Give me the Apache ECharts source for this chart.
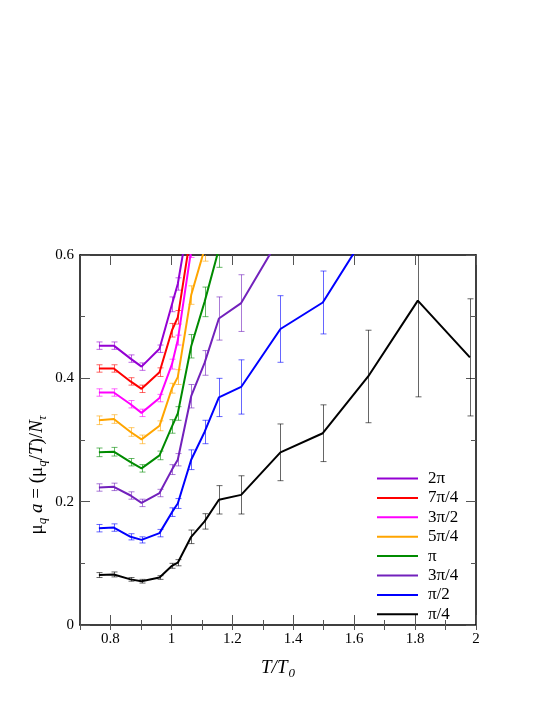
<!DOCTYPE html>
<html>
<head>
<meta charset="utf-8">
<script src="https://cdn.jsdelivr.net/npm/echarts@6/dist/echarts.min.js"></script>
<style>
  html, body { margin: 0; padding: 0; background: #fff; }
  #chart { width: 545px; height: 705px; }
</style>
</head>
<body>
<div id="chart"></div>
<script>
// T/T0 of the lattice points
const tRatio = [0.762, 0.811, 0.866, 0.902, 0.961, 1.002, 1.021, 1.065, 1.109, 1.156, 1.229, 1.358, 1.497, 1.646, 1.809, 1.980];

// mu_q a for each imaginary chemical potential, with errors
const mu2pi = [0.453, 0.453, 0.432, 0.419, 0.448, 0.520, 0.553, 0.680];
const err2pi = [0.006, 0.006, 0.006, 0.006, 0.006, 0.012, 0.010, 0.015];
const mu7pi4 = [0.416, 0.416, 0.395, 0.383, 0.410, 0.478, 0.499, 0.638];
const err7pi4 = [0.006, 0.006, 0.006, 0.006, 0.007, 0.011, 0.011, 0.015];
const mu3pi2 = [0.377, 0.377, 0.358, 0.344, 0.368, 0.423, 0.462, 0.608, 0.750];
const err3pi2 = [0.006, 0.006, 0.006, 0.006, 0.006, 0.008, 0.008, 0.012, 0.015];
const mu5pi4 = [0.332, 0.334, 0.313, 0.301, 0.323, 0.384, 0.402, 0.535, 0.610, 0.750];
const err5pi4 = [0.007, 0.007, 0.007, 0.007, 0.008, 0.008, 0.012, 0.015, 0.020, 0.025];
const muPi = [0.280, 0.281, 0.264, 0.254, 0.275, 0.322, 0.343, 0.452, 0.524, 0.610, 0.700];
const errPi = [0.007, 0.007, 0.006, 0.006, 0.007, 0.011, 0.011, 0.019, 0.024, 0.030, 0.035];
const mu3pi4 = [0.223, 0.224, 0.210, 0.198, 0.214, 0.252, 0.268, 0.371, 0.425, 0.497, 0.522, 0.630];
const err3pi4 = [0.006, 0.006, 0.006, 0.006, 0.006, 0.008, 0.010, 0.019, 0.020, 0.035, 0.046, 0.025];
const muPi2 = [0.157, 0.158, 0.143, 0.138, 0.149, 0.183, 0.197, 0.268, 0.313, 0.369, 0.386, 0.480, 0.523, 0.640];
const errPi2 = [0.006, 0.006, 0.005, 0.005, 0.006, 0.007, 0.008, 0.016, 0.019, 0.031, 0.044, 0.054, 0.051, 0.035];
const muPi4 = [0.081, 0.082, 0.074, 0.071, 0.077, 0.096, 0.101, 0.143, 0.168, 0.203, 0.211, 0.280, 0.311, 0.403, 0.526, 0.434];
const errPi4 = [0.004, 0.004, 0.003, 0.003, 0.003, 0.004, 0.005, 0.011, 0.0125, 0.023, 0.031, 0.046, 0.046, 0.075, 0.156, 0.095];

const seriesNames = ["2π", "7π/4", "3π/2", "5π/4", "π", "3π/4", "π/2", "π/4"];
const seriesColors = ["#9400d3", "#ff0000", "#ff00ff", "#ffa500", "#008b00", "#7221bc", "#0000ff", "#000000"];
const seriesValues = [mu2pi, mu7pi4, mu3pi2, mu5pi4, muPi, mu3pi4, muPi2, muPi4];
const seriesErrors = [err2pi, err7pi4, err3pi2, err5pi4, errPi, err3pi4, errPi2, errPi4];

const xTicks = [0.8, 1, 1.2, 1.4, 1.6, 1.8, 2];
const yTicks = [0, 0.2, 0.4, 0.6];

const serif = "'Liberation Serif', 'DejaVu Serif', serif";

const lineSeries = (name, color, ys) => ({
  name: name,
  type: "line",
  symbol: "none",
  color: color,
  lineStyle: { color: color, width: 2 },
  data: ys.map((y, i) => [tRatio[i], y]),
  animation: false,
  z: 3
});

const errorSeries = (name, color, ys, es) => ({
  name: name + " err",
  type: "custom",
  clip: true,
  silent: true,
  animation: false,
  z: 2,
  data: ys.map((y, i) => [tRatio[i], y - es[i], y + es[i]]),
  encode: { x: 0, y: [1, 2] },
  renderItem: (params, api) => {
    const lo = api.coord([api.value(0), api.value(1)]);
    const hi = api.coord([api.value(0), api.value(2)]);
    const x = Math.round(lo[0]) + 0.5;
    const st = { stroke: color, lineWidth: 1, opacity: 0.6 };
    return {
      type: "group",
      children: [
        { type: "line", shape: { x1: x, y1: lo[1], x2: x, y2: hi[1] }, style: st },
        { type: "line", shape: { x1: x - 3, y1: lo[1], x2: x + 3, y2: lo[1] }, style: st },
        { type: "line", shape: { x1: x - 3, y1: hi[1], x2: x + 3, y2: hi[1] }, style: st }
      ]
    };
  }
});

const series = [];
seriesNames.forEach((n, i) => {
  series.push(errorSeries(n, seriesColors[i], seriesValues[i], seriesErrors[i]));
  series.push(lineSeries(n, seriesColors[i], seriesValues[i]));
});

const tickStyle = { color: "#555", width: 1 };

const baseX = {
  type: "value",
  min: 0.7,
  max: 2,
  interval: 0.1,
  axisLine: { show: true, onZero: false, lineStyle: { color: "#000", width: 1.5 } },
  axisTick: {
    show: true, inside: true, length: 10, lineStyle: tickStyle,
    customValues: xTicks
  },
  minorTick: { show: false },
  splitLine: { show: false }
};

const baseY = {
  type: "value",
  min: 0,
  max: 0.6,
  interval: 0.1,
  axisLine: { show: true, onZero: false, lineStyle: { color: "#000", width: 1.5 } },
  axisTick: { show: true, inside: true, length: 10, lineStyle: tickStyle, customValues: yTicks },
  splitLine: { show: false }
};

// minor ticks at 0.1 steps drawn by extra axes
const minorX = (pos) => ({
  type: "value", min: 0.7, max: 2, interval: 0.1, position: pos,
  axisLine: { show: false },
  axisTick: { show: true, inside: true, length: 5, lineStyle: tickStyle },
  axisLabel: { show: false },
  splitLine: { show: false }
});
const minorY = (pos) => ({
  type: "value", min: 0, max: 0.6, interval: 0.1, position: pos,
  axisLine: { show: false },
  axisTick: { show: true, inside: true, length: 5, lineStyle: tickStyle },
  axisLabel: { show: false },
  splitLine: { show: false }
});

const option = {
  backgroundColor: "#fff",
  animation: false,
  grid: { left: 80, right: 69, top: 255, bottom: 80 },
  xAxis: [
    Object.assign({}, baseX, {
      position: "bottom",
      axisLabel: {
        show: true, margin: 7, fontFamily: serif, fontSize: 15, color: "#000",
        customValues: xTicks,
        formatter: (v) => String(Math.round(v * 10) / 10)
      }
    }),
    Object.assign({}, baseX, { position: "top", axisLabel: { show: false } }),
    minorX("bottom"),
    minorX("top")
  ],
  yAxis: [
    Object.assign({}, baseY, {
      position: "left",
      axisLabel: {
        show: true, margin: 6, fontFamily: serif, fontSize: 15, color: "#000",
        customValues: yTicks,
        formatter: (v) => String(Math.round(v * 10) / 10)
      }
    }),
    Object.assign({}, baseY, { position: "right", axisLabel: { show: false } }),
    minorY("left"),
    minorY("right")
  ],
  legend: {
    data: seriesNames,
    orient: "vertical",
    left: 372,
    top: 465,
    itemWidth: 41,
    itemHeight: 2,
    itemGap: 2.4,
    icon: "rect",
    selectedMode: false,
    textStyle: { fontFamily: serif, fontSize: 17, lineHeight: 15, color: "#000", padding: [0, 0, 0, 5] }
  },
  graphic: [
    {
      type: "text",
      x: 278,
      y: 668,
      style: {
        text: "{i|T/T}{s|0}",
        align: "center",
        verticalAlign: "middle",
        rich: {
          i: { fontFamily: serif, fontStyle: "italic", fontSize: 19, lineHeight: 24, verticalAlign: "middle", fill: "#000" },
          s: { fontFamily: serif, fontStyle: "italic", fontSize: 13, lineHeight: 13, verticalAlign: "bottom", fill: "#000", padding: [0, 0, 0, 1] }
        }
      }
    },
    {
      type: "text",
      x: 37,
      y: 475,
      rotation: Math.PI / 2,
      style: {
        text: "{n|μ}{s|q}{i| a}{n| = (μ}{s|q}{n|/}{i|T}{n|)/}{i|N}{s|τ}",
        align: "center",
        verticalAlign: "middle",
        rich: {
          n: { fontFamily: serif, fontSize: 19, lineHeight: 24, verticalAlign: "middle", fill: "#000" },
          i: { fontFamily: serif, fontStyle: "italic", fontSize: 19, lineHeight: 24, verticalAlign: "middle", fill: "#000" },
          s: { fontFamily: serif, fontStyle: "italic", fontSize: 13, lineHeight: 13, verticalAlign: "bottom", fill: "#000" }
        }
      }
    }
  ],
  series: series
};

// every series on the first pair of axes
option.series.forEach((s) => { s.xAxisIndex = 0; s.yAxisIndex = 0; });

const chart = echarts.init(document.getElementById("chart"), null, { renderer: "canvas" });
chart.setOption(option);
</script>
</body>
</html>
